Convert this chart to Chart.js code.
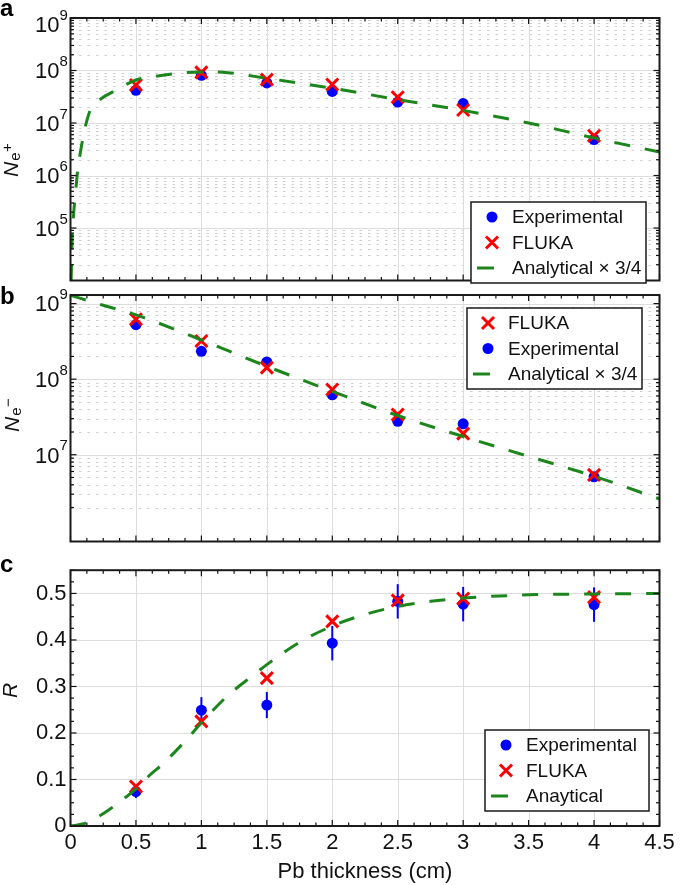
<!DOCTYPE html>
<html><head><meta charset="utf-8">
<script src="https://cdn.jsdelivr.net/npm/chart.js@4.4.1/dist/chart.umd.min.js"></script>
<style>
html,body{margin:0;padding:0;background:#fff;}
body{width:685px;height:885px;position:relative;overflow:hidden;}
canvas{position:absolute;left:0;}
</style></head><body>
<canvas id="ca" width="685" height="292" style="top:0px"></canvas>
<canvas id="cb" width="685" height="273" style="top:280px"></canvas>
<canvas id="cc" width="685" height="332" style="top:553px"></canvas>
<script>
// ---------- data ----------
const thickness = [0.5, 1, 1.5, 2, 2.5, 3, 4];

// panel a: positrons
const posExp   = [4.2e7, 8.1e7, 5.8e7, 4.0e7, 2.5e7, 2.34e7, 4.85e6];
const posFluka = [5.3e7, 9.2e7, 6.7e7, 5.4e7, 3.1e7, 1.77e7, 5.7e6];
const posAnaX  = [0.005, 0.013, 0.025, 0.038, 0.055, 0.076, 0.095, 0.114, 0.152, 0.2, 0.25, 0.305, 0.4, 0.5, 0.63, 0.8, 1.0, 1.2, 1.5, 2.0, 2.5, 3.0, 3.5, 4.0, 4.5];
const posAnaY  = [1.0e4, 6.3e4, 2.0e5, 4.6e5, 1.26e6, 2.8e6, 5.2e6, 8.7e6, 1.78e7, 2.45e7, 3.1e7, 3.7e7, 5.0e7, 6.6e7, 7.6e7, 8.7e7, 9.4e7, 9.1e7, 7.1e7, 4.6e7, 2.8e7, 1.74e7, 1.0e7, 5.2e6, 2.8e6];

// panel b: electrons
const eleExp   = [5.26e8, 2.34e8, 1.69e8, 6.2e7, 2.77e7, 2.56e7, 5.1e6];
const eleFluka = [6.2e8, 3.2e8, 1.42e8, 7.3e7, 3.4e7, 1.9e7, 5.4e6];
const eleAnaX  = [0, 0.25, 0.5, 1, 1.5, 2, 2.5, 3, 3.5, 4, 4.5];
const eleAnaY  = [1.29e9, 9.5e8, 7.1e8, 3.3e8, 1.48e8, 6.9e7, 3.3e7, 1.74e7, 9.5e6, 5.2e6, 2.6e6];

// panel c: ratio R
const ratioExp    = [0.074, 0.249, 0.260, 0.393, 0.483, 0.477, 0.476];
const ratioExpErr = [0.014, 0.028, 0.028, 0.037, 0.037, 0.037, 0.037];
const ratioFluka  = [0.085, 0.225, 0.318, 0.440, 0.485, 0.489, 0.492];
const ratioAnaX   = [0, 0.1, 0.2, 0.3, 0.4, 0.5, 0.6, 0.7, 0.8, 0.9, 1.0, 1.2, 1.4, 1.5, 1.75, 2.0, 2.25, 2.5, 2.75, 3.0, 3.5, 4.0, 4.5];
const ratioAnaY   = [0, 0.005, 0.018, 0.036, 0.057, 0.08, 0.108, 0.132, 0.16, 0.19, 0.222, 0.28, 0.325, 0.347, 0.395, 0.43, 0.455, 0.472, 0.483, 0.49, 0.497, 0.499, 0.5];

// ticks / labels
const xGridVals   = [0.5, 1, 1.5, 2, 2.5, 3, 3.5, 4];
const posDecades  = [5, 6, 7, 8, 9];
const eleDecades  = [7, 8, 9];
const rGridVals   = [0.1, 0.2, 0.3, 0.4, 0.5];
const xTitle = 'Pb thickness (cm)';

// ---------- styling ----------
const FONT = '"Liberation Sans", Arial, Helvetica, sans-serif';
const BLUE = '#0000ff', RED = '#ff0000', GREEN = '#1c861c';
const GRID_MAJOR = '#dddddd', GRID_MINOR = '#cfcfcf', INK = '#111111';

function pts(xs, ys) { return xs.map((v, i) => ({x: v, y: ys[i]})); }
function minorLog(fromExp, toExp) {
  const out = [];
  for (let n = fromExp; n <= toExp; n++) for (let k = 2; k <= 9; k++) out.push(k * Math.pow(10, n));
  return out;
}

function expDs(label, vals) {
  return {label, data: pts(thickness, vals), pointStyle: 'circle', pointRadius: 5.5, pointHoverRadius: 5.5,
    backgroundColor: BLUE, borderColor: BLUE, borderWidth: 0, showLine: false, order: 2};
}
function flukaDs(label, vals) {
  return {label, data: pts(thickness, vals), pointStyle: 'crossRot', pointRadius: 8.5, pointHoverRadius: 8.5,
    backgroundColor: RED, borderColor: RED, pointBorderWidth: 3, borderWidth: 3, showLine: false, order: 1};
}
function anaDs(label, xs, ys) {
  return {label, data: pts(xs, ys), showLine: true, pointRadius: 0, borderColor: GREEN, borderWidth: 3,
    borderDash: [16, 15], cubicInterpolationMode: 'monotone', fill: false, order: 0, borderCapStyle: 'butt'};
}

function line(ctx, x1, y1, x2, y2) { ctx.beginPath(); ctx.moveTo(x1, y1); ctx.lineTo(x2, y2); ctx.stroke(); }

function makePlugin(cfg) {
  return {
    id: 'panel_' + cfg.id,
    beforeDatasetsDraw(chart) {
      const {ctx, chartArea: a, scales: {x, y}} = chart;
      ctx.save();
      ctx.lineWidth = 1;
      if (cfg.yMinor) {
        ctx.strokeStyle = GRID_MINOR; ctx.setLineDash([2.5, 6]);
        cfg.yMinor.forEach(v => {
          if (v <= y.min || v >= y.max) return;
          const p = Math.round(y.getPixelForValue(v)) + 0.5;
          line(ctx, a.left, p, a.right, p);
        });
        ctx.setLineDash([]);
      }
      ctx.strokeStyle = GRID_MAJOR;
      xGridVals.forEach(v => { const p = Math.round(x.getPixelForValue(v)) + 0.5; line(ctx, p, a.top, p, a.bottom); });
      cfg.yGrid.forEach(v => {
        if (v <= y.min || v >= y.max) return;
        const p = Math.round(y.getPixelForValue(v)) + 0.5; line(ctx, a.left, p, a.right, p);
      });
      if (cfg.errors) {
        const E = cfg.errors;
        ctx.strokeStyle = BLUE; ctx.lineWidth = 2;
        E.x.forEach((xv, i) => {
          const px = x.getPixelForValue(xv);
          line(ctx, px, y.getPixelForValue(E.y[i] - E.e[i]), px, y.getPixelForValue(E.y[i] + E.e[i]));
        });
      }
      ctx.restore();
    },
    afterDraw(chart) {
      const {ctx, chartArea: a, scales: {x, y}} = chart;
      ctx.save();
      // ticks (inward, all sides)
      ctx.strokeStyle = INK; ctx.lineWidth = 1.2;
      for (let i = 0; i <= 36; i++) {
        const v = i * 0.125; const L = (i % 4 === 0) ? 6 : 3.5;
        const p = x.getPixelForValue(v);
        line(ctx, p, a.top, p, a.top + L);
        line(ctx, p, a.bottom, p, a.bottom - L);
      }
      const yt = [];
      if (cfg.log) {
        cfg.yGrid.forEach(v => yt.push([v, 6]));
        cfg.yMinor.forEach(v => yt.push([v, 3.5]));
      } else {
        for (let i = 0; i <= 22; i++) yt.push([i * 0.025, i % 4 === 0 ? 6 : 3.5]);
      }
      yt.forEach(([v, L]) => {
        if (v < y.min || v > y.max) return;
        const p = y.getPixelForValue(v);
        line(ctx, a.left, p, a.left + L, p);
        line(ctx, a.right, p, a.right - L, p);
      });
      // frame
      ctx.lineWidth = 2; ctx.strokeStyle = '#1a1a1a';
      ctx.strokeRect(a.left, a.top, a.right - a.left, a.bottom - a.top);

      // log tick labels 10^n
      if (cfg.decades) {
        ctx.fillStyle = INK; ctx.textBaseline = 'alphabetic';
        cfg.decades.forEach(n => {
          let py = y.getPixelForValue(Math.pow(10, n));
          if (py - a.top < 4) py += 6;
          ctx.font = '22px ' + FONT; ctx.textAlign = 'right';
          ctx.fillText('10', 59.5, py + 7.8);
          ctx.font = '15px ' + FONT; ctx.textAlign = 'left';
          ctx.fillText(String(n), 59.5, py - 4.3);
        });
      }
      // legend
      const L = cfg.legend;
      ctx.fillStyle = '#fff'; ctx.fillRect(L.x, L.y, L.w, L.h);
      ctx.strokeStyle = '#1a1a1a'; ctx.lineWidth = 1.5; ctx.strokeRect(L.x, L.y, L.w, L.h);
      const rows = [15, 40.5, 66];
      L.items.forEach((di, i) => {
        const ds = chart.data.datasets[di];
        const cy = L.y + rows[i];
        const mx = L.x + 21;
        if (ds.showLine) {
          ctx.strokeStyle = ds.borderColor; ctx.lineWidth = 3;
          line(ctx, L.x + 6, cy, L.x + 23, cy);
        } else if (ds.pointStyle === 'circle') {
          ctx.fillStyle = ds.backgroundColor; ctx.beginPath(); ctx.arc(mx, cy, 5.5, 0, Math.PI * 2); ctx.fill();
        } else {
          ctx.strokeStyle = ds.borderColor; ctx.lineWidth = 3; const r = 6;
          line(ctx, mx - r, cy - r, mx + r, cy + r); line(ctx, mx - r, cy + r, mx + r, cy - r);
        }
        ctx.fillStyle = INK; ctx.font = '19px ' + FONT; ctx.textAlign = 'left'; ctx.textBaseline = 'middle';
        ctx.fillText(ds.label, L.x + 41, cy + 1);
      });
      // y title (rotated)
      const T = cfg.yTitle;
      ctx.save();
      ctx.translate(T.x, T.y); ctx.rotate(-Math.PI / 2);
      ctx.fillStyle = INK; ctx.textAlign = 'left'; ctx.textBaseline = 'alphabetic';
      ctx.font = 'italic 21px ' + FONT;
      ctx.fillText(T.main, 0, 0);
      let w = ctx.measureText(T.main).width;
      if (T.sub) {
        ctx.font = '15px ' + FONT; ctx.fillText(T.sub, w + 1, 1.5);
        w += 1 + ctx.measureText(T.sub).width;
      }
      if (T.sup) { ctx.font = '15px ' + FONT; ctx.fillText(T.sup, w + 0.5, -6); }
      ctx.restore();
      // panel letter
      ctx.fillStyle = '#000'; ctx.font = 'bold 24px ' + FONT; ctx.textAlign = 'left'; ctx.textBaseline = 'alphabetic';
      ctx.fillText(cfg.letter, 0, cfg.letterY);
      ctx.restore();
    }
  };
}

const common = {
  responsive: false, animation: false, events: [],
  plugins: {legend: {display: false}, tooltip: {enabled: false}}
};

// ---------- panel a ----------
new Chart(document.getElementById('ca'), {
  type: 'scatter',
  data: {datasets: [expDs('Experimental', posExp), flukaDs('FLUKA', posFluka), anaDs('Analytical × 3/4', posAnaX, posAnaY)]},
  options: Object.assign({}, common, {
    layout: {padding: {left: 70.5, right: 25.5, top: 18, bottom: 2.5}},
    scales: {
      x: {type: 'linear', min: 0, max: 4.5, display: false},
      y: {type: 'logarithmic', min: 1e4, max: 1e9, display: false}
    }
  }),
  plugins: [makePlugin({id: 'a', log: true, yGrid: posDecades.map(n => Math.pow(10, n)), yMinor: minorLog(4, 8),
    decades: posDecades, letter: 'a', letterY: 15.5,
    legend: {x: 471, y: 202, w: 175, h: 81, items: [0, 1, 2]},
    yTitle: {x: 18, y: 177, main: 'N', sub: 'e', sup: '+'}})]
});

// ---------- panel b ----------
new Chart(document.getElementById('cb'), {
  type: 'scatter',
  data: {datasets: [expDs('Experimental', eleExp), flukaDs('FLUKA', eleFluka), anaDs('Analytical × 3/4', eleAnaX, eleAnaY)]},
  options: Object.assign({}, common, {
    layout: {padding: {left: 70.5, right: 25.5, top: 15, bottom: 3.5}},
    scales: {
      x: {type: 'linear', min: 0, max: 4.5, display: false},
      y: {type: 'logarithmic', min: 7.1e5, max: 1.3e9, display: false}
    }
  }),
  plugins: [makePlugin({id: 'b', log: true, yGrid: eleDecades.map(n => Math.pow(10, n)), yMinor: minorLog(6, 8),
    decades: eleDecades, letter: 'b', letterY: 23.5,
    legend: {x: 467, y: 28, w: 175, h: 81, items: [1, 0, 2]},
    yTitle: {x: 19, y: 152, main: 'N', sub: 'e', sup: '\u2212'}})]
});

// ---------- panel c ----------
new Chart(document.getElementById('cc'), {
  type: 'scatter',
  data: {datasets: [expDs('Experimental', ratioExp), flukaDs('FLUKA', ratioFluka), anaDs('Anaytical', ratioAnaX, ratioAnaY)]},
  options: Object.assign({}, common, {
    layout: {padding: {left: 0, right: 25.5, top: 4.5, bottom: 0}},
    scales: {
      x: {type: 'linear', min: 0, max: 4.5,
        grid: {display: false, drawTicks: false}, border: {display: false},
        ticks: {stepSize: 0.5, padding: 4, color: INK, font: {family: FONT, size: 22}, maxRotation: 0, autoSkip: false,
          callback: v => String(Math.round(v * 10) / 10)},
        title: {display: true, text: xTitle, color: INK, font: {family: FONT, size: 22}, padding: 0},
        afterFit: s => { s.height = 59; }},
      y: {type: 'linear', min: 0, max: 0.55,
        grid: {display: false, drawTicks: false}, border: {display: false},
        ticks: {stepSize: 0.1, includeBounds: false, padding: 4, color: INK, font: {family: FONT, size: 22},
          callback: v => String(Math.round(v * 10) / 10)},
        afterFit: s => { s.width = 70.5; }}
    }
  }),
  plugins: [makePlugin({id: 'c', log: false, yGrid: rGridVals, letter: 'c', letterY: 19,
    errors: {x: thickness, y: ratioExp, e: ratioExpErr},
    legend: {x: 485, y: 177, w: 164, h: 81, items: [0, 1, 2]},
    yTitle: {x: 17, y: 145, main: 'R'}})]
});
</script>
</body></html>
